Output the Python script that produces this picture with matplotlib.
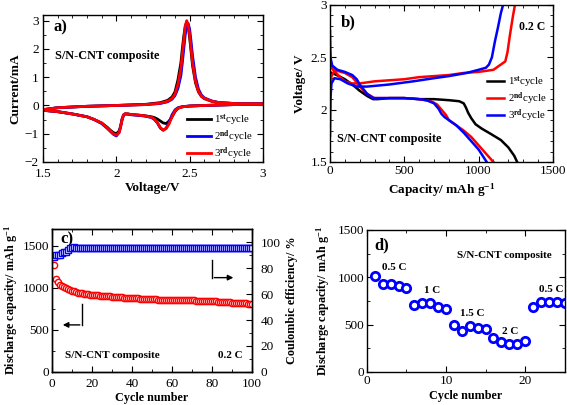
import numpy as np
import matplotlib
matplotlib.use("Agg")
from matplotlib import pyplot as plt
from matplotlib.ticker import MultipleLocator

plt.rcParams['font.family'] = ['Liberation Serif', 'DejaVu Serif']
plt.rcParams['mathtext.fontset'] = 'custom'
plt.rcParams['mathtext.rm'] = 'Liberation Serif:bold'
plt.rcParams['mathtext.default'] = 'rm'
plt.rcParams['xtick.direction'] = 'in'
plt.rcParams['ytick.direction'] = 'in'
plt.rcParams['xtick.top'] = True
plt.rcParams['ytick.right'] = True
plt.rcParams['axes.linewidth'] = 1.0

# ---- a) CV curves (cathodic scan 3 -> 1.5 V, then anodic 1.5 -> 3 V)
cv_v_cath = [3.0, 2.8, 2.6, 2.5, 2.45, 2.42, 2.40, 2.38, 2.36, 2.34, 2.32, 2.30, 2.28, 2.26,
             2.24, 2.2, 2.15, 2.1, 2.08, 2.06, 2.05, 2.04, 2.03, 2.02, 2.0, 1.98, 1.96, 1.94,
             1.9, 1.85, 1.8, 1.7, 1.6, 1.5]
cv_v_anod = [1.5, 1.6, 1.8, 2.0, 2.2, 2.3, 2.35, 2.38, 2.4, 2.42, 2.44, 2.45, 2.46, 2.47,
             2.48, 2.49, 2.5, 2.51, 2.52, 2.54, 2.56, 2.58, 2.6, 2.65, 2.7, 2.8, 2.9, 3.0]
cv1_cath = [0.05, 0.03, 0.0, -0.02, -0.05, -0.1, -0.22, -0.4, -0.55, -0.64, -0.62, -0.55,
            -0.48, -0.43, -0.4, -0.37, -0.34, -0.32, -0.3, -0.3, -0.34, -0.48, -0.72, -0.9,
            -1.0, -0.96, -0.88, -0.78, -0.62, -0.5, -0.4, -0.3, -0.22, -0.17]
cv2_cath = [0.05, 0.03, 0.0, -0.02, -0.04, -0.08, -0.16, -0.33, -0.6, -0.8, -0.88, -0.8,
            -0.62, -0.5, -0.43, -0.38, -0.35, -0.33, -0.31, -0.3, -0.33, -0.47, -0.72, -0.95,
            -1.08, -1.02, -0.92, -0.82, -0.64, -0.5, -0.4, -0.3, -0.22, -0.17]
cv3_cath = [0.05, 0.03, 0.0, -0.02, -0.05, -0.1, -0.2, -0.4, -0.65, -0.82, -0.87, -0.78,
            -0.6, -0.48, -0.42, -0.37, -0.34, -0.32, -0.3, -0.29, -0.33, -0.48, -0.74, -0.95,
            -1.05, -1.0, -0.9, -0.8, -0.62, -0.5, -0.4, -0.3, -0.22, -0.17]
cv1_anod = [-0.15, -0.08, -0.03, 0.0, 0.04, 0.1, 0.18, 0.3, 0.48, 0.9, 1.5, 2.0, 2.45, 2.8,
            2.95, 2.8, 2.4, 1.9, 1.4, 0.8, 0.48, 0.32, 0.24, 0.15, 0.1, 0.07, 0.06, 0.05]
cv2_anod = [-0.15, -0.08, -0.03, 0.0, 0.03, 0.07, 0.13, 0.22, 0.35, 0.6, 1.05, 1.5, 2.0, 2.5,
            2.85, 2.9, 2.7, 2.25, 1.75, 1.0, 0.58, 0.37, 0.27, 0.16, 0.1, 0.07, 0.06, 0.05]
cv3_anod = [-0.15, -0.08, -0.03, 0.0, 0.03, 0.08, 0.15, 0.25, 0.4, 0.75, 1.3, 1.8, 2.3, 2.8,
            3.0, 2.85, 2.5, 2.0, 1.5, 0.85, 0.5, 0.33, 0.25, 0.15, 0.1, 0.07, 0.06, 0.05]

# ---- b) charge/discharge profiles
dis1_c = [0, 10, 30, 60, 100, 150, 200, 250, 290, 320, 400, 500, 600, 700, 800, 870, 900,
          915, 930, 950, 980, 1020, 1080, 1150, 1200, 1240, 1260]
dis1_v = [2.36, 2.35, 2.34, 2.32, 2.29, 2.24, 2.18, 2.13, 2.1, 2.1, 2.11, 2.11, 2.1, 2.1,
          2.09, 2.08, 2.06, 2.02, 1.97, 1.92, 1.86, 1.82, 1.77, 1.71, 1.64, 1.56, 1.5]
dis2_c = [0, 5, 20, 50, 100, 150, 180, 200, 250, 300, 400, 500, 600, 680, 720, 750, 780,
          800, 850, 900, 950, 1000, 1050, 1100]
dis2_v = [2.55, 2.42, 2.38, 2.37, 2.35, 2.31, 2.26, 2.22, 2.15, 2.11, 2.11, 2.11, 2.1, 2.08,
          2.05, 2.0, 1.95, 1.9, 1.85, 1.8, 1.74, 1.66, 1.58, 1.5]
chg2_c = [0, 3, 10, 30, 60, 100, 150, 200, 300, 400, 500, 600, 700, 800, 900, 1000, 1100,
          1140, 1160, 1180, 1195, 1210, 1230, 1245]
chg2_v = [2.0, 2.2, 2.32, 2.37, 2.32, 2.27, 2.25, 2.25, 2.27, 2.28, 2.29, 2.31, 2.32, 2.33,
          2.35, 2.36, 2.38, 2.42, 2.44, 2.46, 2.55, 2.7, 2.88, 3.0]
dis3_c = [0, 3, 15, 50, 100, 150, 180, 200, 250, 290, 400, 500, 600, 650, 700, 730, 750,
          770, 800, 850, 900, 950, 1000, 1055]
dis3_v = [2.75, 2.5, 2.42, 2.38, 2.36, 2.33, 2.29, 2.24, 2.15, 2.11, 2.11, 2.11, 2.1, 2.09,
          2.06, 2.01, 1.96, 1.93, 1.9, 1.85, 1.78, 1.7, 1.62, 1.5]
chg3_c = [0, 3, 10, 30, 70, 120, 180, 250, 400, 560, 700, 800, 920, 1000, 1050, 1070, 1090,
          1110, 1130, 1150, 1165]
chg3_v = [1.75, 2.1, 2.25, 2.3, 2.29, 2.25, 2.22, 2.22, 2.24, 2.27, 2.3, 2.32, 2.35, 2.38,
          2.4, 2.43, 2.5, 2.65, 2.78, 2.92, 3.0]

# ---- c) cycling at 0.2 C
cycles_c = list(range(1, 101))
dis_cap = [1270, 1100, 1065, 1040, 1020, 1005, 995, 985, 975, 965,
           958, 950, 945, 940, 935, 930, 927, 924, 921, 918,
           915, 913, 911, 909, 907, 905, 903, 901, 899, 897,
           895, 893, 891, 889, 887, 885, 883, 881, 880, 878,
           877, 875, 874, 872, 871, 870, 868, 867, 866, 865,
           864, 863, 862, 861, 860, 859, 858, 858, 857, 856,
           856, 855, 855, 854, 854, 853, 853, 852, 852, 851,
           851, 850, 850, 849, 848, 847, 846, 845, 844, 843,
           841, 840, 838, 837, 835, 833, 832, 830, 828, 826,
           824, 822, 821, 819, 818, 816, 815, 813, 812, 810]
coul_eff = [88.5, 89.8, 90.0, 90.2, 91.8, 92.0, 92.3, 94.2, 95.2, 95.6,
            95.8, 95.6, 95.7, 95.5, 95.6, 95.4, 95.6, 95.5, 95.7, 95.5,
            95.4, 95.6, 95.5, 95.6, 95.4, 95.5, 95.6, 95.5, 95.4, 95.6,
            95.5, 95.6, 95.4, 95.5, 95.6, 95.5, 95.4, 95.5, 95.6, 95.5,
            95.4, 95.6, 95.5, 95.5, 95.4, 95.6, 95.5, 95.6, 95.5, 95.4,
            95.6, 95.5, 95.5, 95.6, 95.4, 95.5, 95.6, 95.5, 95.4, 95.6,
            95.5, 95.5, 95.6, 95.4, 95.5, 95.6, 95.5, 95.4, 95.5, 95.6,
            95.5, 95.4, 95.6, 95.5, 95.5, 95.6, 95.4, 95.5, 95.6, 95.5,
            95.4, 95.5, 95.6, 95.5, 95.4, 95.6, 95.5, 95.5, 95.4, 95.5,
            95.6, 95.5, 95.4, 95.5, 95.6, 95.4, 95.5, 95.5, 95.4, 95.3]

# ---- d) rate capability
cycles_d = list(range(1, 26))
rate_cap = [1014, 933, 925, 908, 890, 709, 730, 730, 691, 667,
            496, 436, 482, 468, 454, 355, 312, 298, 298, 323,
            684, 738, 741, 738, 730]
rate_labels = ['0.5 C', '1 C', '1.5 C', '2 C', '0.5 C']
rate_label_x = [1.9, 7.2, 11.8, 17.1, 21.7]
rate_label_y = [1099, 862, 613, 425, 869]

fig = plt.figure(figsize=(5.67, 4.05), dpi=100)
bold = dict(fontweight='bold')
LAB = 9.5     # top panel axis labels
LAB2 = 8.7    # bottom panel axis labels

# a)
ax1 = fig.add_axes([0.0758, 0.6, 0.388, 0.363])
cols = ['black', 'blue', 'red']
labels = ['1$^{st}$cycle', '2$^{nd}$cycle', '3$^{rd}$cycle']
for cath, anod, c, lab in zip([cv1_cath, cv2_cath, cv3_cath], [cv1_anod, cv2_anod, cv3_anod],
                              cols, labels):
    ax1.plot(cv_v_cath + cv_v_anod, cath + anod, color=c, lw=2, label=lab)
ax1.set_xlim(1.5, 3)
ax1.set_ylim(-2, 3.2)
ax1.xaxis.set_minor_locator(MultipleLocator(0.1))
ax1.yaxis.set_major_locator(MultipleLocator(1))
ax1.yaxis.set_minor_locator(MultipleLocator(0.5))
ax1.set_xticks([1.5, 2, 2.5, 3])
ax1.set_xticklabels(['1.5', '2', '2.5', '3'])
ax1.set_xlabel('Voltage/V', fontsize=LAB, labelpad=2, **bold)
ax1.set_ylabel('Current/mA', fontsize=LAB, labelpad=2, **bold)
ax1.text(0.05, 0.89, 'a)', transform=ax1.transAxes, fontsize=12, **bold)
ax1.text(0.055, 0.7, 'S/N-CNT composite', transform=ax1.transAxes, fontsize=8.8, **bold)
ax1.legend(loc='center left', bbox_to_anchor=(0.63, 0.17), frameon=False, fontsize=7.8,
           handlelength=2.2, handletextpad=0.3, labelspacing=0.05, borderpad=0)

# b)
ax2 = fig.add_axes([0.582, 0.6, 0.393, 0.388])
ax2.plot(dis1_c, dis1_v, color='black', lw=1.8, label='1$^{st}$cycle')
ax2.plot(dis2_c, dis2_v, color='red', lw=1.8, label='2$^{nd}$cycle')
ax2.plot(chg2_c, chg2_v, color='red', lw=1.8)
ax2.plot(dis3_c, dis3_v, color='blue', lw=1.8, label='3$^{rd}$cycle')
ax2.plot(chg3_c, chg3_v, color='blue', lw=1.8)
ax2.set_xlim(0, 1500)
ax2.set_ylim(1.5, 3)
ax2.xaxis.set_major_locator(MultipleLocator(500))
ax2.xaxis.set_minor_locator(MultipleLocator(100))
ax2.yaxis.set_minor_locator(MultipleLocator(0.1))
ax2.set_yticks([1.5, 2, 2.5, 3])
ax2.set_yticklabels(['1.5', '2', '2.5', '3'])
ax2.set_xlabel('Capacity/ mAh g$^{-1}$', fontsize=LAB, labelpad=3, **bold)
ax2.set_ylabel('Voltage/ V', fontsize=LAB, labelpad=3, **bold)
ax2.text(0.05, 0.86, 'b)', transform=ax2.transAxes, fontsize=12, **bold)
ax2.text(0.85, 0.84, '0.2 C', transform=ax2.transAxes, fontsize=8.5, **bold)
ax2.text(0.03, 0.13, 'S/N-CNT composite', transform=ax2.transAxes, fontsize=8.8, **bold)
ax2.legend(loc='center left', bbox_to_anchor=(0.68, 0.40), frameon=False, fontsize=7.8,
           handlelength=1.6, handletextpad=0.3, labelspacing=0.05, borderpad=0)

# c)
ax3 = fig.add_axes([0.0917, 0.0815, 0.353, 0.353])
ax3.plot(cycles_c, dis_cap, 'o', mfc='white', mec='red', ms=4.5, mew=1)
ax3.set_xlim(0, 100)
ax3.set_ylim(0, 1700)
ax3.xaxis.set_major_locator(MultipleLocator(20))
ax3.xaxis.set_minor_locator(MultipleLocator(10))
ax3.yaxis.set_major_locator(MultipleLocator(500))
ax3.yaxis.set_minor_locator(MultipleLocator(250))
ax3.tick_params(right=False)
ax3.set_xlabel('Cycle number', fontsize=LAB2, labelpad=2, **bold)
ax3.set_ylabel('Discharge capacity/ mAh g$^{-1}$', fontsize=LAB2, labelpad=2, **bold)
ax3.text(0.04, 0.93, 'c)', transform=ax3.transAxes, fontsize=12, va='center', zorder=5, **bold)
ax3.text(0.065, 0.1, 'S/N-CNT composite', transform=ax3.transAxes, fontsize=8, **bold)
ax3.text(0.83, 0.1, '0.2 C', transform=ax3.transAxes, fontsize=8, **bold)
ax3.plot([15, 15], [806, 560], color='black', lw=1)
ax3.annotate('', xy=(4, 560), xytext=(15.3, 560),
             arrowprops=dict(arrowstyle='-|>', color='black', lw=1, mutation_scale=8))
ax3b = ax3.twinx()
ax3b.plot(cycles_c, coul_eff, 's', mfc='white', mec='blue', ms=4.5, mew=1)
ax3b.set_ylim(0, 110)
ax3b.yaxis.set_major_locator(MultipleLocator(20))
ax3b.yaxis.set_minor_locator(MultipleLocator(10))
ax3b.set_ylabel('Coulombic efficiency/ %', fontsize=LAB2, labelpad=4, **bold)
ax3b.plot([80, 80], [86, 72.6], color='black', lw=1)
ax3b.annotate('', xy=(92, 72.6), xytext=(79.7, 72.6),
              arrowprops=dict(arrowstyle='-|>', color='black', lw=1, mutation_scale=8))

# d)
ax4 = fig.add_axes([0.647, 0.0815, 0.349, 0.351])
ax4.plot(cycles_d, rate_cap, 'o', mfc='white', mec='blue', ms=6, mew=2)
ax4.set_xlim(0, 25)
ax4.set_ylim(0, 1500)
ax4.xaxis.set_major_locator(MultipleLocator(10))
ax4.xaxis.set_minor_locator(MultipleLocator(5))
ax4.yaxis.set_major_locator(MultipleLocator(500))
ax4.yaxis.set_minor_locator(MultipleLocator(250))
ax4.set_xlabel('Cycle number', fontsize=LAB2, labelpad=2, **bold)
ax4.set_ylabel('Discharge capacity/ mAh g$^{-1}$', fontsize=LAB2, labelpad=4, **bold)
ax4.text(0.04, 0.86, 'd)', transform=ax4.transAxes, fontsize=12, **bold)
ax4.text(11.4, 1200, 'S/N-CNT composite', fontsize=8, **bold)
for lab, x, y in zip(rate_labels, rate_label_x, rate_label_y):
    ax4.text(x, y, lab, fontsize=8, va='center', **bold)

for ax in [ax1, ax2, ax3, ax3b, ax4]:
    ax.tick_params(which='both', labelsize=9.5, pad=2)
    ax.tick_params(which='major', length=4)
    ax.tick_params(which='minor', length=2)
ax1.tick_params(axis='x', pad=4)
ax1.tick_params(axis='y', pad=3)
ax3.tick_params(axis='x', pad=4)
ax3b.tick_params(axis='y', pad=6)

fig.savefig('out.png', dpi=100)
